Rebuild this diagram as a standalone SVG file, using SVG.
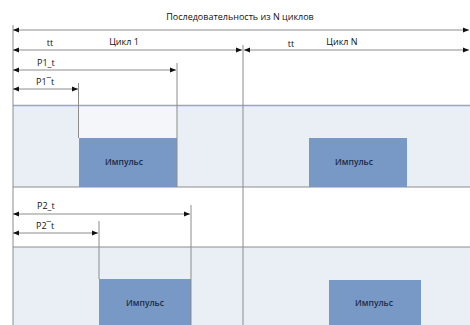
<svg xmlns="http://www.w3.org/2000/svg" width="470" height="325" viewBox="0 0 470 325">
<style>
.t{font-family:"Open Sans","Liberation Sans",Arial,sans-serif;font-size:9px;fill:#111}
.p{font-family:"Open Sans","Liberation Sans",Arial,sans-serif;font-size:8.5px;font-weight:600;fill:#1a2a45;text-anchor:middle}
.ln{stroke:#8c8c8c;stroke-width:1;fill:none}
.dim{stroke:#8c8c8c;stroke-width:1;fill:none;marker-start:url(#al);marker-end:url(#ar)}
.band{fill:#eaeff6}
.pulse{fill:#7898c6}
</style>
<defs>
<marker id="ar" markerWidth="6" markerHeight="6" refX="6" refY="3" orient="auto" markerUnits="userSpaceOnUse"><path d="M0,0.5 L6,3 L0,5.5 Z" fill="#111"/></marker>
<marker id="al" markerWidth="6" markerHeight="6" refX="0" refY="3" orient="auto" markerUnits="userSpaceOnUse"><path d="M6,0.5 L0,3 L6,5.5 Z" fill="#111"/></marker>
</defs>
<rect width="470" height="325" fill="#ffffff"/>
<g id="bands">
<rect class="band" x="13" y="106" width="457" height="81"/>
<rect x="79" y="106" width="98" height="32" fill="#f4f6f9"/>
<rect class="band" x="13" y="247" width="457" height="78"/>
<line x1="13" y1="105.5" x2="470" y2="105.5" stroke="#9ca1d2" stroke-width="1.5"/>
<line class="ln" x1="13" y1="187" x2="470" y2="187"/>
<line class="ln" x1="13" y1="247" x2="470" y2="247"/>
</g>
<g id="pulse1"><rect class="pulse" x="79" y="138" width="98" height="49"/><text class="p" x="124" y="165">Импульс</text></g>
<g id="pulseN1"><rect class="pulse" x="309" y="138" width="98" height="49"/><text class="p" x="354" y="165">Импульс</text></g>
<g id="pulse2"><rect class="pulse" x="99" y="279" width="92" height="46"/><text class="p" x="145" y="306">Импульс</text></g>
<g id="pulseN2"><rect class="pulse" x="329" y="280" width="92" height="45"/><text class="p" x="374" y="306">Импульс</text></g>
<g id="connectors">
<line class="ln" x1="13" y1="25" x2="13" y2="325"/>
<line class="ln" x1="243" y1="45" x2="243" y2="325"/>
<line class="ln" x1="177" y1="63" x2="177" y2="187"/>
<line class="ln" x1="78.5" y1="83" x2="78.5" y2="138"/>
<line class="ln" x1="191" y1="205" x2="191" y2="325"/>
<line class="ln" x1="99" y1="221" x2="99" y2="279"/>
<line class="dim" x1="13" y1="30" x2="469" y2="30"/>
<line class="dim" x1="13" y1="50" x2="242" y2="50"/>
<line class="dim" x1="244" y1="50" x2="469" y2="50"/>
<line class="dim" x1="13" y1="70" x2="176" y2="70"/>
<line class="dim" x1="13" y1="89" x2="78" y2="89"/>
<line class="dim" x1="13" y1="214" x2="190" y2="214"/>
<line class="dim" x1="13" y1="233" x2="98" y2="233"/>
</g>
<g id="labels">
<text class="t" x="240" y="20" text-anchor="middle">Последовательность из N циклов</text>
<text class="t" x="50" y="46" text-anchor="middle">tt</text>
<text class="t" x="124" y="45" text-anchor="middle">Цикл 1</text>
<text class="t" x="291" y="47" text-anchor="middle">tt</text>
<text class="t" x="342" y="45" text-anchor="middle">Цикл N</text>
<text class="t" x="37" y="66">P1_t</text>
<text class="t" x="36" y="85">P1¯t</text>
<text class="t" x="37" y="209">P2_t</text>
<text class="t" x="36" y="229">P2¯t</text>
</g>
</svg>
